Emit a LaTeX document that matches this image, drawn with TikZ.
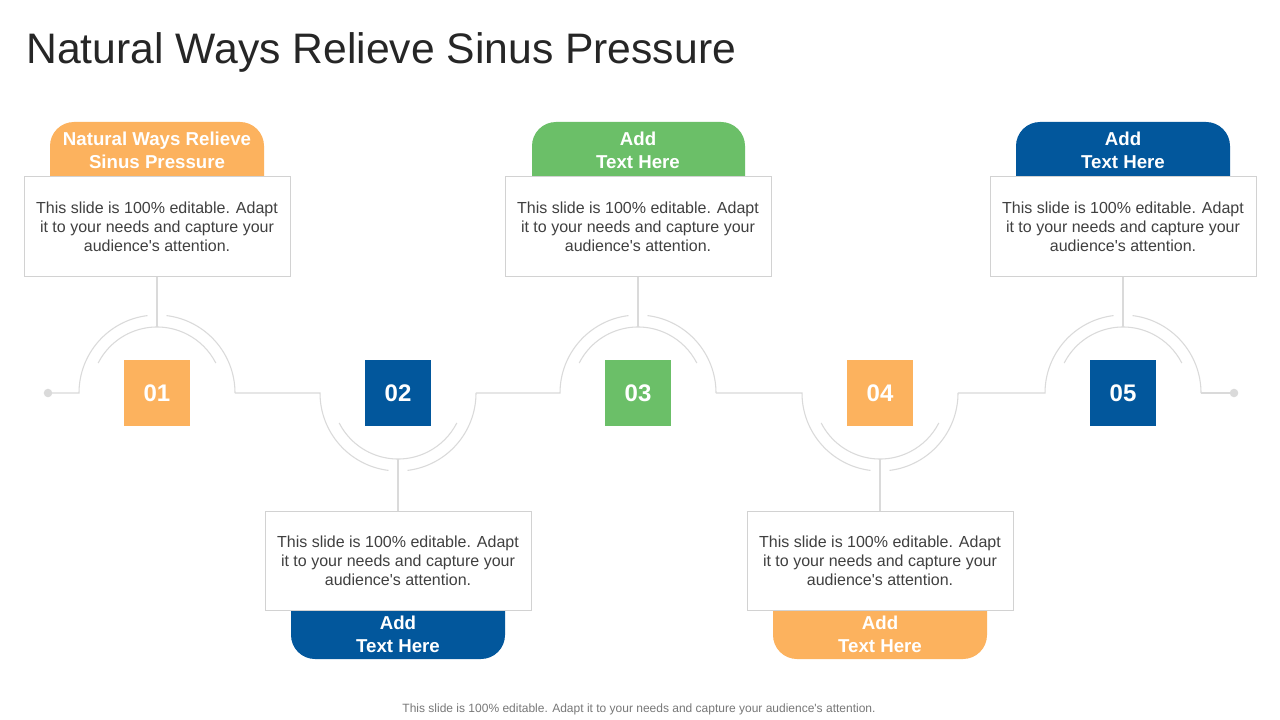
\documentclass[tikz,border=0pt]{standalone}
\usepackage{fontspec}
\setmainfont{Liberation Sans}
\usepackage{xcolor}

\definecolor{orangeC}{RGB}{252,178,94}
\definecolor{greenC}{RGB}{107,191,104}
\definecolor{blueC}{RGB}{2,87,156}
\definecolor{lineC}{RGB}{218,218,218}
\definecolor{boxC}{RGB}{210,210,210}
\definecolor{textC}{RGB}{64,64,64}
\definecolor{titleC}{RGB}{38,38,38}
\definecolor{footC}{RGB}{120,120,120}

\begin{document}
\begin{tikzpicture}[x=0.75pt, y=0.75pt,
	gline/.style={draw=lineC, line width=0.8pt},
	numbox/.style={minimum size=49.5pt, inner sep=0pt, text=white, font=\fontsize{18}{20}\selectfont\bfseries},
	textbox/.style={draw=boxC, fill=white, line width=0.75pt, minimum width=199.5pt, minimum height=74.25pt, inner sep=0pt, align=center, text=textC, font=\fontsize{12}{14.25}\selectfont},
	tabtext/.style={align=center, text=white, inner sep=0pt, font=\fontsize{14}{17.25}\selectfont\bfseries}]
		
		% canvas
		\useasboundingbox[fill=white] (0,0) rectangle (1280,-720);
		
		% title
		\node[anchor=base west, inner sep=0pt, text=titleC, font=\fontsize{32}{36}\selectfont] (title) at (26,-64) {Natural Ways Relieve Sinus Pressure};
		
		% centres
		\coordinate (c1) at (157,-393);
		\coordinate (c2) at (398,-393);
		\coordinate (c3) at (638,-393);
		\coordinate (c4) at (880,-393);
		\coordinate (c5) at (1123,-393);
		
		% end dots
		\fill[lineC] (48,-393) circle (3.2pt) coordinate (dotL);
		\fill[lineC] (1234,-393) circle (3.2pt) coordinate (dotR);
		
		% main line with arcs
		\draw[gline] (dotL) -- ([shift={(-78,0)}]c1) arc (180:97:78);
		\draw[gline] ([shift={(78,0)}]c1) arc (0:83:78);
		\draw[gline] ([shift={(78,0)}]c1) -- ([shift={(-78,0)}]c2) arc (180:263:78);
		\draw[gline] ([shift={(78,0)}]c2) arc (0:-83:78);
		\draw[gline] ([shift={(78,0)}]c2) -- ([shift={(-78,0)}]c3) arc (180:97:78);
		\draw[gline] ([shift={(78,0)}]c3) arc (0:83:78);
		\draw[gline] ([shift={(78,0)}]c3) -- ([shift={(-78,0)}]c4) arc (180:263:78);
		\draw[gline] ([shift={(78,0)}]c4) arc (0:-83:78);
		\draw[gline] ([shift={(78,0)}]c4) -- ([shift={(-78,0)}]c5) arc (180:97:78);
		\draw[gline] ([shift={(78,0)}]c5) arc (0:83:78);
		\draw[gline] ([shift={(78,0)}]c5) -- (dotR);
		
		% inner arcs
		\draw[gline] ([shift={(153:66)}]c1) arc (153:27:66);
		\draw[gline] ([shift={(207:66)}]c2) arc (207:333:66);
		\draw[gline] ([shift={(153:66)}]c3) arc (153:27:66);
		\draw[gline] ([shift={(207:66)}]c4) arc (207:333:66);
		\draw[gline] ([shift={(153:66)}]c5) arc (153:27:66);
		
		% number squares
		\node[numbox, fill=orangeC] (n1) at (c1) {01};
		\node[numbox, fill=blueC] (n2) at (c2) {02};
		\node[numbox, fill=greenC] (n3) at (c3) {03};
		\node[numbox, fill=orangeC] (n4) at (c4) {04};
		\node[numbox, fill=blueC] (n5) at (c5) {05};
		
		% tabs
		\fill[orangeC, rounded corners=18pt] (50,-205) rectangle (264,-122);
		\fill[greenC, rounded corners=18pt] (532,-205) rectangle (745,-122);
		\fill[blueC, rounded corners=18pt] (1016,-205) rectangle (1230,-122);
		\fill[blueC, rounded corners=18pt] (291,-585) rectangle (505,-659);
		\fill[orangeC, rounded corners=18pt] (773,-585) rectangle (987,-659);
		
		% text boxes
		\node[textbox] (b1) at (157,-226.5) {This slide is 100\% editable. Adapt\\it to your needs and capture your\\audience\textquotesingle s attention.};
		\node[textbox] (b2) at (398,-560.5) {This slide is 100\% editable. Adapt\\it to your needs and capture your\\audience\textquotesingle s attention.};
		\node[textbox] (b3) at (638,-226.5) {This slide is 100\% editable. Adapt\\it to your needs and capture your\\audience\textquotesingle s attention.};
		\node[textbox] (b4) at (880,-560.5) {This slide is 100\% editable. Adapt\\it to your needs and capture your\\audience\textquotesingle s attention.};
		\node[textbox] (b5) at (1123,-226.5) {This slide is 100\% editable. Adapt\\it to your needs and capture your\\audience\textquotesingle s attention.};
		
		% tab labels
		\node[tabtext] (t1) at (157,-150) {Natural Ways Relieve\\Sinus Pressure};
		\node[tabtext] (t2) at (398,-634) {Add\\Text Here};
		\node[tabtext] (t3) at (638,-150) {Add\\Text Here};
		\node[tabtext] (t4) at (880,-634) {Add\\Text Here};
		\node[tabtext] (t5) at (1123,-150) {Add\\Text Here};
		
		% stems
		\draw[gline] (b1.south) -- ([shift={(0,66)}]c1);
		\draw[gline] (b2.north) -- ([shift={(0,-66)}]c2);
		\draw[gline] (b3.south) -- ([shift={(0,66)}]c3);
		\draw[gline] (b4.north) -- ([shift={(0,-66)}]c4);
		\draw[gline] (b5.south) -- ([shift={(0,66)}]c5);
		
		% footer
		\node[text=footC, font=\fontsize{9}{11}\selectfont] (foot) at (639,-709) {This slide is 100\% editable. Adapt it to your needs and capture your audience\textquotesingle s attention.};
		
	\end{tikzpicture}
\end{document}
